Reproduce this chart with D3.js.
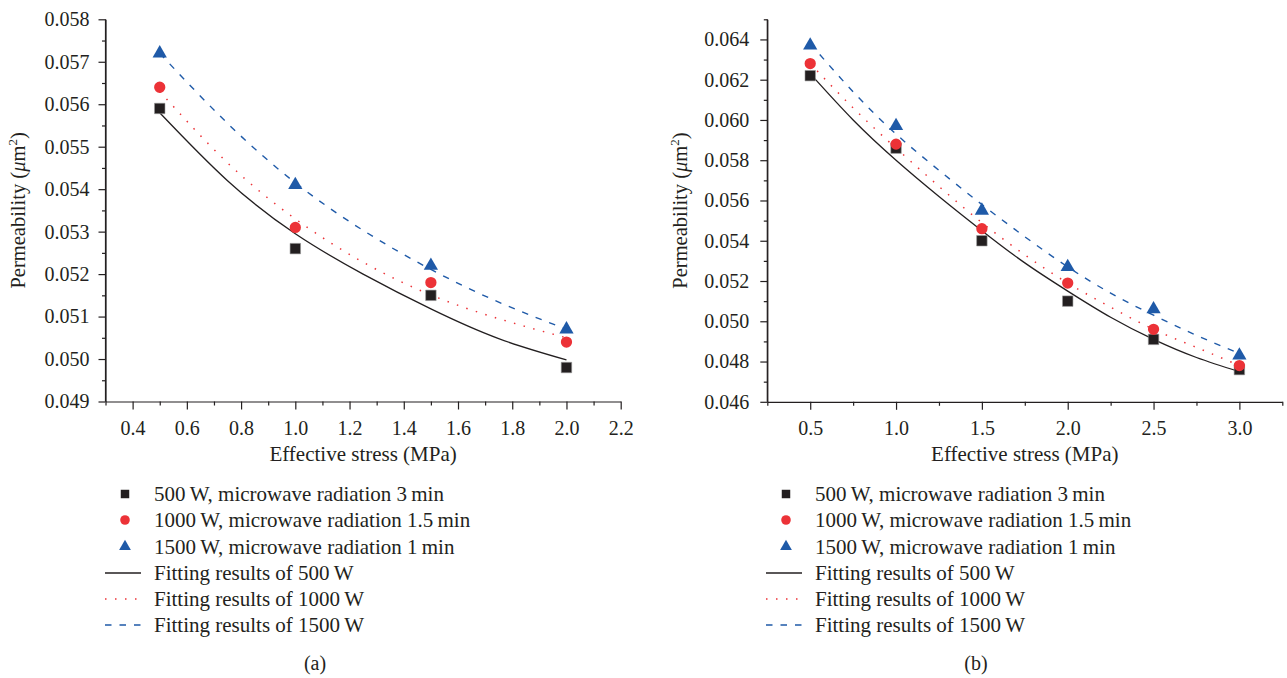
<!DOCTYPE html>
<html>
<head>
<meta charset="utf-8">
<script src="https://cdn.jsdelivr.net/npm/d3@7"></script>
<style>
  html, body { margin: 0; padding: 0; background: #ffffff; }
  svg { display: block; }
  text { font-family: "Liberation Serif", "Times New Roman", serif; fill: #231f20; }
</style>
</head>
<body>
<svg id="chart" width="1287" height="678"></svg>
<script>
// ---------- Data ----------
// Panel (a)
const stressA = [0.5, 1.0, 1.5, 2.0];
const perm500A = [0.0559, 0.0526, 0.0515, 0.0498];
const perm1000A = [0.0564, 0.0531, 0.0518, 0.0504];
const perm1500A = [0.0572, 0.0541, 0.0522, 0.0507];
const fitStressA = [0.5, 0.75, 1.0, 1.25, 1.5, 1.75, 2.0];
const fit500A = [0.0558, 0.0542, 0.05295, 0.0520, 0.05118, 0.05048, 0.04998];
const fit1000A = [0.0563, 0.05462, 0.0533, 0.05228, 0.05151, 0.05095, 0.0505];
const fit1500A = [0.0572, 0.05555, 0.05415, 0.05303, 0.05211, 0.05134, 0.0507];
const xTicksA = [0.4, 0.6, 0.8, 1.0, 1.2, 1.4, 1.6, 1.8, 2.0, 2.2];
const xMinorA = [0.3, 0.5, 0.7, 0.9, 1.1, 1.3, 1.5, 1.7, 1.9, 2.1];
const yTicksA = [0.049, 0.050, 0.051, 0.052, 0.053, 0.054, 0.055, 0.056, 0.057, 0.058];
const yMinorA = [0.0495, 0.0505, 0.0515, 0.0525, 0.0535, 0.0545, 0.0555, 0.0565, 0.0575];

// Panel (b)
const stressB = [0.5, 1.0, 1.5, 2.0, 2.5, 3.0];
const perm500B = [0.0622, 0.0586, 0.0540, 0.0510, 0.0491, 0.0476];
const perm1000B = [0.0628, 0.0588, 0.0546, 0.0519, 0.0496, 0.0478];
const perm1500B = [0.0637, 0.0597, 0.0555, 0.0527, 0.0506, 0.0483];
const fitStressB = [0.5, 0.75, 1.0, 1.25, 1.5, 1.75, 2.0, 2.25, 2.5, 2.75, 3.0];
const fit500B = [0.0623, 0.0600, 0.0580, 0.0562, 0.0545, 0.0529, 0.0515, 0.0502, 0.0491, 0.0482, 0.0475];
const fit1000B = [0.0628, 0.0606, 0.0586, 0.0567, 0.0549, 0.0533, 0.0519, 0.0507, 0.0496, 0.0487, 0.0478];
const fit1500B = [0.0638, 0.0614, 0.0593, 0.0575, 0.0558, 0.0542, 0.0527, 0.0514, 0.0503, 0.0493, 0.0484];
const xTicksB = [0.5, 1.0, 1.5, 2.0, 2.5, 3.0];
const xMinorB = [0.25, 0.75, 1.25, 1.75, 2.25, 2.75, 3.25];
const yTicksB = [0.046, 0.048, 0.050, 0.052, 0.054, 0.056, 0.058, 0.060, 0.062, 0.064];
const yMinorB = [0.047, 0.049, 0.051, 0.053, 0.055, 0.057, 0.059, 0.061, 0.063, 0.065];

// Legend labels
const legendMarkerLabels = ["500\u2009W, microwave radiation 3\u2009min",
                            "1000\u2009W, microwave radiation 1.5\u2009min",
                            "1500\u2009W, microwave radiation 1\u2009min"];
const legendLineLabels = ["Fitting results of 500\u2009W",
                          "Fitting results of 1000\u2009W",
                          "Fitting results of 1500\u2009W"];
const xTitle = "Effective stress (MPa)";
const captions = ["(a)", "(b)"];

// ---------- Styles ----------
const INK = "#231f20";
const SERIF = '"Liberation Serif", "Times New Roman", serif';
const seriesStyle = [
  { color: "#231f20", symbol: d3.symbolSquare, size: 110, lsize: 72, dash: null, width: 1.3 },
  { color: "#ec3237", symbol: d3.symbolCircle, size: 100, lsize: 72, dash: "1.5,8.5", width: 1.5 },
  { color: "#1f5aa8", symbol: d3.symbolTriangle, size: 88, lsize: 60, dash: "6.5,8", width: 1.4 }
];

const svg = d3.select("#chart");

function drawPanel(cfg) {
  const g = svg.append("g");
  const x = d3.scaleLinear().domain(cfg.xDomain).range(cfg.xRange);
  const y = d3.scaleLinear().domain(cfg.yDomain).range(cfg.yRange);

  // minor ticks
  g.append("g").attr("transform", `translate(0,${cfg.yRange[0]})`)
    .call(d3.axisBottom(x).tickValues(cfg.xMinor).tickSize(4).tickSizeOuter(0).tickFormat(""))
    .call(a => a.select(".domain").remove());
  g.append("g").attr("transform", `translate(${cfg.xRange[0]},0)`)
    .call(d3.axisLeft(y).tickValues(cfg.yMinor).tickSize(3.5).tickSizeOuter(0).tickFormat(""))
    .call(a => a.select(".domain").remove());

  // major axes
  const xa = g.append("g").attr("transform", `translate(0,${cfg.yRange[0]})`)
    .call(d3.axisBottom(x).tickValues(cfg.xTicks).tickSize(8).tickSizeOuter(0)
      .tickPadding(11.5).tickFormat(d3.format(".1f")));
  const ya = g.append("g").attr("transform", `translate(${cfg.xRange[0]},0)`)
    .call(d3.axisLeft(y).tickValues(cfg.yTicks).tickSize(7).tickSizeOuter(0)
      .tickPadding(cfg.yPad).tickFormat(d3.format(".3f")));
  g.selectAll(".tick line, .domain").attr("stroke", INK).attr("stroke-width", 1.2);
  [xa, ya].forEach(a => a.selectAll("text")
    .style("font-family", SERIF)
    .style("font-size", "20px").style("fill", INK));
  g.append("line").attr("x1", cfg.xRange[0]).attr("x2", cfg.xRange[0])
    .attr("y1", cfg.yRange[0]).attr("y2", cfg.yRange[1])
    .attr("stroke", INK).attr("stroke-width", 1.2);

  // axis titles
  g.append("text").attr("x", (cfg.xRange[0] + cfg.xRange[1]) / 2).attr("y", 461)
    .attr("text-anchor", "middle").style("font-size", "21px").text(xTitle);
  const yt = g.append("text")
    .attr("transform", `translate(${cfg.yTitleX},${(cfg.yRange[0] + cfg.yRange[1]) / 2}) rotate(-90)`)
    .attr("text-anchor", "middle").style("font-size", "20.5px");
  yt.append("tspan").text("Permeability (");
  yt.append("tspan").style("font-style", "italic").text("\u03bc");
  yt.append("tspan").text("m");
  yt.append("tspan").style("font-size", "13px").attr("dy", -8).text("2");
  yt.append("tspan").attr("dy", 8).text(")");

  // fit lines
  const line = d3.line().x(d => x(d[0])).y(d => y(d[1])).curve(d3.curveNatural);
  cfg.fits.forEach((vals, i) => {
    const st = seriesStyle[i];
    g.append("path")
      .datum(cfg.fitX.map((s, j) => [s, vals[j]]))
      .attr("d", line).attr("fill", "none")
      .attr("stroke", st.color).attr("stroke-width", st.width)
      .attr("stroke-dasharray", st.dash);
  });

  // markers
  cfg.points.forEach((vals, i) => {
    const st = seriesStyle[i];
    g.append("g").selectAll("path")
      .data(cfg.px.map((s, j) => [s, vals[j]]))
      .join("path")
      .attr("transform", d => `translate(${x(d[0])},${y(d[1])})`)
      .attr("d", d3.symbol().type(st.symbol).size(st.size))
      .attr("fill", st.color)
      .attr("stroke", i === 0 ? "#9a9a9a" : "none").attr("stroke-width", 0.6);
  });

  // legend
  const rowY = [494, 520, 546.5, 573, 599, 625];
  const lg = g.append("g");
  lg.selectAll("path.mk").data(legendMarkerLabels).join("path").attr("class", "mk")
    .attr("transform", (d, i) => `translate(${cfg.legX + 20},${rowY[i]})`)
    .attr("d", (d, i) => d3.symbol().type(seriesStyle[i].symbol).size(seriesStyle[i].lsize)())
    .attr("fill", (d, i) => seriesStyle[i].color);
  lg.selectAll("line.ln").data(legendLineLabels).join("line").attr("class", "ln")
    .attr("x1", cfg.legX).attr("x2", cfg.legX + 36)
    .attr("y1", (d, i) => rowY[i + 3]).attr("y2", (d, i) => rowY[i + 3])
    .attr("stroke", (d, i) => seriesStyle[i].color)
    .attr("stroke-width", (d, i) => seriesStyle[i].width)
    .attr("stroke-dasharray", (d, i) => seriesStyle[i].dash);
  lg.selectAll("text").data(legendMarkerLabels.concat(legendLineLabels)).join("text")
    .attr("x", cfg.legX + 49).attr("y", (d, i) => rowY[i]).attr("dy", "0.35em")
    .style("font-size", "21px").text(d => d);

  // caption
  g.append("text").attr("x", cfg.capX).attr("y", 670).attr("text-anchor", "middle")
    .style("font-size", "20px").text(cfg.caption);
}

drawPanel({
  xDomain: [0.3, 2.2], xRange: [105.5, 620.7],
  yDomain: [0.049, 0.058], yRange: [401.5, 19.3],
  xTicks: xTicksA, xMinor: xMinorA, yTicks: yTicksA, yMinor: yMinorA, yPad: 9,
  yTitleX: 25,
  px: stressA, points: [perm500A, perm1000A, perm1500A],
  fitX: fitStressA, fits: [fit500A, fit1000A, fit1500A],
  legX: 105, capX: 315, caption: captions[0]
});
drawPanel({
  xDomain: [0.25, 3.25], xRange: [767.3, 1282.3],
  yDomain: [0.046, 0.065], yRange: [401.8, 19.3],
  xTicks: xTicksB, xMinor: xMinorB, yTicks: yTicksB, yMinor: yMinorB, yPad: 11,
  yTitleX: 687,
  px: stressB, points: [perm500B, perm1000B, perm1500B],
  fitX: fitStressB, fits: [fit500B, fit1000B, fit1500B],
  legX: 766, capX: 976, caption: captions[1]
});
</script>
</body>
</html>
